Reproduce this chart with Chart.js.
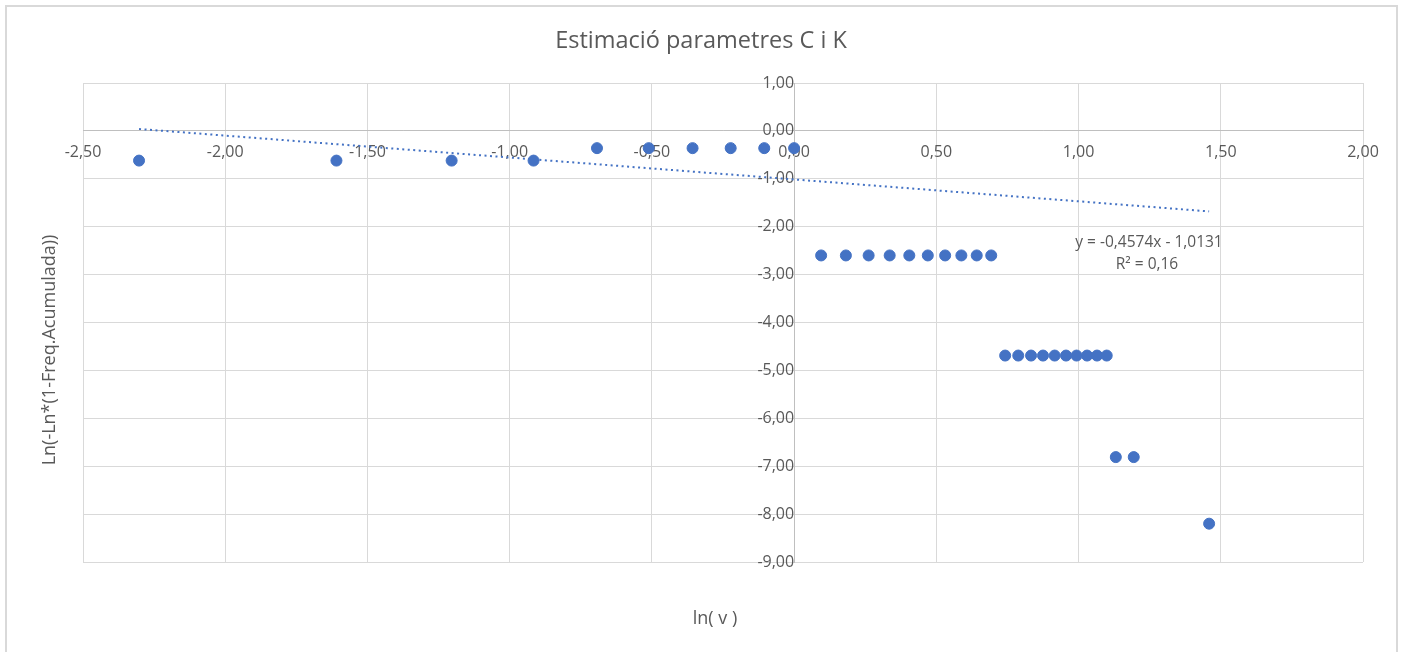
<!DOCTYPE html>
<html>
<head>
<meta charset="utf-8">
<script src="https://cdn.jsdelivr.net/npm/chart.js@4"></script>
<style>
  body { margin: 0; background: #fff; }
</style>
</head>
<body>
<canvas id="grafico" width="1403" height="652"></canvas>
<script>
// ln(v) per a cada classe de velocitat
const lnV = [
  -2.303, -1.609, -1.204, -0.916, -0.693, -0.511, -0.357, -0.223, -0.105, 0.000,
  0.095, 0.182, 0.262, 0.336, 0.405, 0.470, 0.531, 0.588, 0.642, 0.693,
  0.742, 0.788, 0.833, 0.875, 0.916, 0.956, 0.993, 1.030, 1.065, 1.099,
  1.131, 1.194, 1.459
];
// Ln(-Ln*(1-Freq.Acumulada))
const lnLn = [
  -0.62, -0.62, -0.62, -0.62, -0.36, -0.36, -0.36, -0.36, -0.36, -0.36,
  -2.60, -2.60, -2.60, -2.60, -2.60, -2.60, -2.60, -2.60, -2.60, -2.60,
  -4.69, -4.69, -4.69, -4.69, -4.69, -4.69, -4.69, -4.69, -4.69, -4.69,
  -6.81, -6.81, -8.20
];

// linia de tendencia (Excel)
const pendent = -0.4574;
const ordenada = -1.0131;
const r2 = "0,16";

const titol = "Estimació parametres C i K";
const titolX = "ln( v )";
const titolY = "Ln(-Ln*(1-Freq.Acumulada))";

const gris = "#595959";
const blau = "#4472C4";
const font = "'Open Sans', Lato, sans-serif";

let punts = lnV.map((x, i) => ({ x: x, y: lnLn[i] }));
let xMin = Math.min(...lnV);
let xMax = Math.max(...lnV);
let tendencia = [
  { x: xMin, y: pendent * xMin + ordenada },
  { x: xMax, y: pendent * xMax + ordenada },
];

let coma = (v) => v.toFixed(2).replace(".", ",");
let coma4 = (v) => v.toFixed(4).replace(".", ",");

// textos i vora exterior
let textos = {
  id: "textos",
  beforeDraw(chart) {
    let ctx = chart.ctx;
    ctx.save();
    ctx.fillStyle = "#fff";
    ctx.fillRect(0, 0, chart.width, chart.height);
    ctx.strokeStyle = "#d9d9d9";
    ctx.lineWidth = 2;
    ctx.strokeRect(6, 6, 1391, 700);
    ctx.restore();
  },
  afterDraw(chart) {
    let ctx = chart.ctx;
    ctx.save();
    ctx.fillStyle = gris;
    ctx.textAlign = "center";
    ctx.textBaseline = "middle";
    ctx.font = "23.5px " + font;
    ctx.fillText(titol, 701, 41);
    ctx.font = "18px " + font;
    ctx.fillText(titolX, 715, 619);
    ctx.save();
    ctx.translate(50, 350);
    ctx.rotate(-Math.PI / 2);
    ctx.fillText(titolY, 0, 0);
    ctx.restore();
    ctx.font = "15.5px " + font;
    ctx.fillText("y = " + coma4(pendent) + "x - " + coma4(-ordenada), 1149, 243);
    ctx.fillText("R² = " + r2, 1147, 265);
    ctx.restore();
  },
};

let config = {
  type: "scatter",
  data: {
    datasets: [
      {
        label: "Estimació",
        data: punts,
        backgroundColor: blau,
        borderColor: blau,
        pointRadius: 5.5,
        pointHoverRadius: 5.5,
      },
      {
        type: "line",
        label: "Tendència",
        data: tendencia,
        borderColor: blau,
        borderWidth: 2,
        borderDash: [2, 3.5],
        pointRadius: 0,
        fill: false,
      },
    ],
  },
  options: {
    responsive: false,
    animation: false,
    layout: { padding: { left: 83, top: 83, right: 40, bottom: 90 } },
    plugins: {
      legend: { display: false },
      title: { display: false },
      tooltip: { enabled: false },
    },
    scales: {
      x: {
        type: "linear",
        position: { y: 0 },
        min: -2.5,
        max: 2.0,
        ticks: {
          stepSize: 0.5,
          padding: 12,
          color: gris,
          font: { size: 16, family: font },
          callback: (v) => coma(v),
        },
        grid: { color: "#d9d9d9", drawTicks: false },
        border: { color: "#bfbfbf", width: 1 },
      },
      y: {
        type: "linear",
        position: { x: 0 },
        min: -9,
        max: 1,
        ticks: {
          stepSize: 1,
          padding: 16,
          color: gris,
          font: { size: 16, family: font },
          callback: (v) => coma(v),
        },
        grid: { color: "#d9d9d9", drawTicks: false },
        border: { color: "#bfbfbf", width: 1 },
      },
    },
  },
  plugins: [textos],
};

new Chart(document.getElementById("grafico"), config);
</script>
</body>
</html>
